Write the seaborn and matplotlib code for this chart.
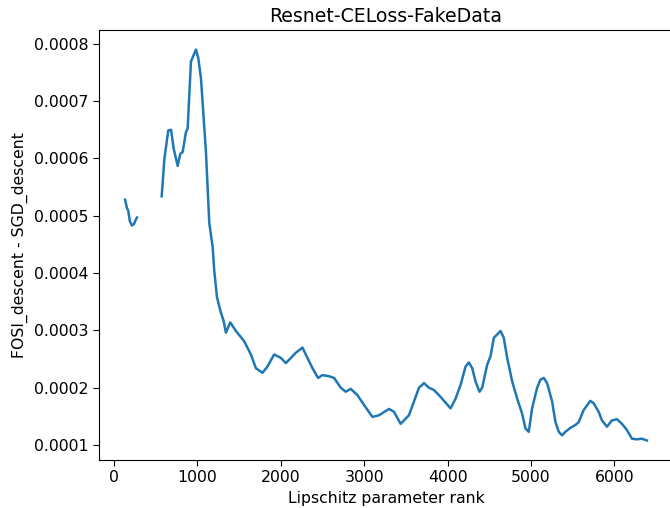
import numpy as np
import pandas as pd
import seaborn as sns
import matplotlib
matplotlib.use("Agg")
import matplotlib.pyplot as plt

# Segment 1 (early ranks)
x_seg1 = [132, 155, 168, 190, 215, 240, 263, 275]
y_seg1 = [0.000528, 0.000513, 0.000510, 0.000490, 0.000483, 0.000486, 0.000494, 0.000497]

# Segment 2 (after gap)
x_seg2 = [571, 603, 650, 683, 715, 763, 794, 822, 862, 882, 922, 982, 1010, 1042,
          1102, 1142, 1182, 1201, 1234, 1281, 1313, 1341, 1393, 1461, 1561, 1641,
          1701, 1780, 1840, 1920, 2000, 2060, 2120, 2180, 2260, 2299, 2380, 2447,
          2499, 2579, 2639, 2719, 2778, 2838, 2919, 2998, 3099, 3178, 3298, 3357,
          3437, 3537, 3597, 3657, 3717, 3777, 3837, 3916, 4036, 4096, 4156, 4216,
          4255, 4296, 4335, 4383, 4415, 4475, 4515, 4555, 4595, 4635, 4674, 4715,
          4775, 4835, 4894, 4934, 4974, 5014, 5074, 5114, 5154, 5194, 5254, 5294,
          5334, 5373, 5413, 5473, 5533, 5573, 5632, 5712, 5752, 5812, 5852, 5912,
          5972, 6032, 6092, 6152, 6212, 6271, 6331, 6391]
y_seg2 = [0.000534, 0.000599, 0.000649, 0.000650, 0.000617, 0.000587, 0.000608,
          0.000611, 0.000646, 0.000652, 0.000769, 0.000790, 0.000775, 0.000740,
          0.000611, 0.000487, 0.000446, 0.000405, 0.000358, 0.000331, 0.000317,
          0.000296, 0.000314, 0.000299, 0.000281, 0.000258, 0.000234, 0.000226,
          0.000237, 0.000258, 0.000252, 0.000243, 0.000252, 0.000261, 0.000270,
          0.000258, 0.000234, 0.000217, 0.000222, 0.000220, 0.000217, 0.000200,
          0.000193, 0.000198, 0.000187, 0.000170, 0.000149, 0.000152, 0.000163,
          0.000158, 0.000137, 0.000152, 0.000176, 0.000200, 0.000208, 0.000200,
          0.000196, 0.000184, 0.000164, 0.000181, 0.000205, 0.000237, 0.000244,
          0.000234, 0.000211, 0.000193, 0.000200, 0.000240, 0.000255, 0.000287,
          0.000293, 0.000299, 0.000287, 0.000252, 0.000211, 0.000181, 0.000155,
          0.000129, 0.000123, 0.000164, 0.000200, 0.000214, 0.000217, 0.000208,
          0.000176, 0.000140, 0.000123, 0.000117, 0.000123, 0.000130, 0.000135,
          0.000140, 0.000161, 0.000177, 0.000173, 0.000158, 0.000143, 0.000132,
          0.000143, 0.000145, 0.000137, 0.000126, 0.000111, 0.000110, 0.000111,
          0.000108]

title = "Resnet-CELoss-FakeData"
xlabel = "Lipschitz parameter rank"
ylabel = "FOSI_descent - SGD_descent"

plt.rcParams.update({
    "xtick.labelsize": 11.3,
    "ytick.labelsize": 11.3,
    "axes.labelsize": 11.3,
    "axes.titlesize": 13.6,
    "xtick.major.size": 4,
    "ytick.major.size": 4,
})

fig = plt.figure(figsize=(6.7, 5.08), dpi=100)
ax = fig.add_axes([99 / 670, 48 / 508, 574 / 670, 430 / 508])

color = "#1f77b4"
sns.lineplot(x=x_seg1, y=y_seg1, ax=ax, color=color, linewidth=1.8)
sns.lineplot(x=x_seg2, y=y_seg2, ax=ax, color=color, linewidth=1.8)

ax.set_title(title)
ax.set_xlabel(xlabel)
ax.set_ylabel(ylabel)
ax.set_xticks([0, 1000, 2000, 3000, 4000, 5000, 6000])

fig.savefig("out.png", dpi=100)
